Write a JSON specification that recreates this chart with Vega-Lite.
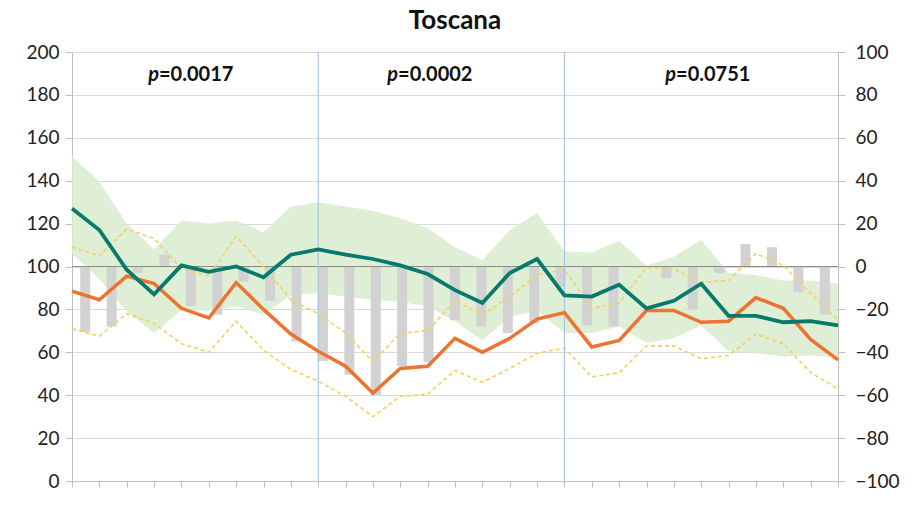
{
  "$schema": "https://vega.github.io/schema/vega-lite/v6.json",
  "width": 766,
  "height": 429,
  "autosize": {"type": "none"},
  "padding": {"left": 72, "top": 52, "right": 76, "bottom": 24},
  "background": "white",
  "title": {"text": "Toscana", "font": "Lato", "fontSize": 26, "fontWeight": "bold", "color": "#111111", "anchor": "middle", "offset": 9},
  "config": {
    "view": {"stroke": null},
    "axis": {"labelFont": "Lato", "labelFontSize": 19, "labelColor": "#222222", "domainColor": "#bfbfbf", "tickColor": "#bfbfbf", "titleFont": "Lato"}
  },
  "datasets": {
    "series": [
      {"i": 0, "teal": 127, "orange": 88.5, "bhi": 151.5, "blo": 106, "yhi": 109, "ylo": 71},
      {"i": 1, "teal": 117, "orange": 84.5, "bhi": 139.5, "blo": 94, "yhi": 105, "ylo": 67.5},
      {"i": 2, "teal": 98.5, "orange": 95.5, "bhi": 120, "blo": 79, "yhi": 117.5, "ylo": 78},
      {"i": 3, "teal": 87, "orange": 92, "bhi": 108, "blo": 69, "yhi": 113, "ylo": 73.5},
      {"i": 4, "teal": 100.5, "orange": 80.5, "bhi": 121.5, "blo": 79.5, "yhi": 99, "ylo": 64},
      {"i": 5, "teal": 97.5, "orange": 76, "bhi": 120, "blo": 79.5, "yhi": 95.5, "ylo": 60},
      {"i": 6, "teal": 100, "orange": 92.5, "bhi": 121.5, "blo": 81.5, "yhi": 114, "ylo": 74.5},
      {"i": 7, "teal": 95, "orange": 80, "bhi": 116, "blo": 77.5, "yhi": 100, "ylo": 61},
      {"i": 8, "teal": 105.5, "orange": 68.5, "bhi": 128, "blo": 86.5, "yhi": 84.5, "ylo": 52},
      {"i": 9, "teal": 108, "orange": 60.5, "bhi": 130, "blo": 87.5, "yhi": 78, "ylo": 46.5},
      {"i": 10, "teal": 105.5, "orange": 53.5, "bhi": 128, "blo": 86, "yhi": 69, "ylo": 39.5},
      {"i": 11, "teal": 103.5, "orange": 41, "bhi": 126, "blo": 84.5, "yhi": 55.5, "ylo": 30},
      {"i": 12, "teal": 100.5, "orange": 52.5, "bhi": 122.5, "blo": 83.5, "yhi": 69, "ylo": 39.5},
      {"i": 13, "teal": 96.5, "orange": 53.5, "bhi": 118, "blo": 81.5, "yhi": 70, "ylo": 40.5},
      {"i": 14, "teal": 89, "orange": 66.5, "bhi": 109, "blo": 74.5, "yhi": 84, "ylo": 51.5},
      {"i": 15, "teal": 83, "orange": 60, "bhi": 103, "blo": 65.5, "yhi": 77.5, "ylo": 46},
      {"i": 16, "teal": 97, "orange": 66.5, "bhi": 117, "blo": 76.5, "yhi": 86, "ylo": 52.5},
      {"i": 17, "teal": 103.5, "orange": 75.5, "bhi": 125, "blo": 79.5, "yhi": 96, "ylo": 59.5},
      {"i": 18, "teal": 86.5, "orange": 78.5, "bhi": 107, "blo": 69, "yhi": 98.5, "ylo": 62},
      {"i": 19, "teal": 86, "orange": 62.5, "bhi": 106.5, "blo": 69, "yhi": 80.5, "ylo": 48.5},
      {"i": 20, "teal": 91.5, "orange": 65.5, "bhi": 112, "blo": 72, "yhi": 83, "ylo": 50.5},
      {"i": 21, "teal": 80.5, "orange": 79.5, "bhi": 100.5, "blo": 64.5, "yhi": 99.5, "ylo": 63},
      {"i": 22, "teal": 84, "orange": 79.5, "bhi": 104.5, "blo": 66.5, "yhi": 99, "ylo": 63},
      {"i": 23, "teal": 92, "orange": 74, "bhi": 112.5, "blo": 72.5, "yhi": 92.5, "ylo": 57},
      {"i": 24, "teal": 77, "orange": 74.5, "bhi": 97, "blo": 60.5, "yhi": 93.5, "ylo": 58.5},
      {"i": 25, "teal": 77, "orange": 85.5, "bhi": 96, "blo": 59.5, "yhi": 106, "ylo": 68.5},
      {"i": 26, "teal": 74, "orange": 80.5, "bhi": 93.5, "blo": 58, "yhi": 100.5, "ylo": 64},
      {"i": 27, "teal": 74.5, "orange": 66, "bhi": 93.5, "blo": 58.5, "yhi": 87.5, "ylo": 50.5},
      {"i": 28, "teal": 72.5, "orange": 56.5, "bhi": 92, "blo": 57.5, "yhi": 75, "ylo": 43}
    ],
    "bars": [
      {"j": 0, "v": -30.5}, {"j": 1, "v": -28}, {"j": 2, "v": -3}, {"j": 3, "v": 5.5},
      {"j": 4, "v": -18.5}, {"j": 5, "v": -22.5}, {"j": 6, "v": -7}, {"j": 7, "v": -16},
      {"j": 8, "v": -35}, {"j": 9, "v": -44}, {"j": 10, "v": -50.5}, {"j": 11, "v": -60},
      {"j": 12, "v": -46.5}, {"j": 13, "v": -44.5}, {"j": 14, "v": -25}, {"j": 15, "v": -28},
      {"j": 16, "v": -31}, {"j": 17, "v": -26.5}, {"j": 18, "v": -9.5}, {"j": 19, "v": -27.5},
      {"j": 20, "v": -28}, {"j": 21, "v": -0.5}, {"j": 22, "v": -5.5}, {"j": 23, "v": -20},
      {"j": 24, "v": -3}, {"j": 25, "v": 10.5}, {"j": 26, "v": 9}, {"j": 27, "v": -12},
      {"j": 28, "v": -22.5}
    ],
    "dividers": [{"i": 9}, {"i": 18}],
    "baseline": [{"r": 0}],
    "labels": [
      {"x": 3.18, "y": 189.5, "p": "p", "rest": "=0.0017"},
      {"x": 11.92, "y": 189.5, "p": "p", "rest": "=0.0002"},
      {"x": 22.08, "y": 189.5, "p": "p", "rest": "=0.0751"}
    ]
  },
  "resolve": {"scale": {"x": "independent", "y": "independent"}},
  "layer": [
    {
      "data": {"name": "series"},
      "mark": {"type": "area", "color": "#d9ecce", "opacity": 0.85},
      "encoding": {
        "x": {"field": "i", "type": "quantitative", "scale": {"domain": [0, 28], "nice": false, "zero": false},
              "axis": {"orient": "bottom", "values": [0,1,2,3,4,5,6,7,8,9,10,11,12,13,14,15,16,17,18,19,20,21,22,23,24,25,26,27,28], "labels": false, "title": null, "grid": false, "tickSize": 6, "domainColor": "#bfbfbf"}},
        "y": {"field": "bhi", "type": "quantitative", "scale": {"domain": [0, 200], "nice": false},
              "axis": {"orient": "left", "values": [0,20,40,60,80,100,120,140,160,180,200], "title": null, "grid": true, "gridColor": "#dadada", "tickSize": 7, "labelPadding": 6}},
        "y2": {"field": "blo"}
      }
    },
    {
      "data": {"name": "bars"},
      "mark": {"type": "bar", "color": "#d2d2d2"},
      "encoding": {
        "x": {"field": "j", "type": "ordinal", "scale": {"paddingInner": 0.62, "paddingOuter": 0.31}, "axis": null},
        "y": {"field": "v", "type": "quantitative", "scale": {"domain": [-100, 100], "nice": false},
              "axis": {"orient": "right", "values": [-100,-80,-60,-40,-20,0,20,40,60,80,100], "title": null, "grid": false, "tickSize": 7, "labelPadding": 10}}
      }
    },
    {
      "data": {"name": "baseline"},
      "mark": {"type": "rule", "color": "#8c8c8c", "strokeWidth": 1},
      "encoding": {
        "y": {"field": "r", "type": "quantitative", "scale": {"domain": [-100, 100], "nice": false}, "axis": null}
      }
    },
    {
      "data": {"name": "series"},
      "mark": {"type": "line", "color": "#f7cf5c", "strokeWidth": 1.6, "strokeDash": [4, 3]},
      "encoding": {
        "x": {"field": "i", "type": "quantitative", "scale": {"domain": [0, 28], "nice": false, "zero": false}, "axis": null},
        "y": {"field": "yhi", "type": "quantitative", "scale": {"domain": [0, 200], "nice": false}, "axis": null}
      }
    },
    {
      "data": {"name": "series"},
      "mark": {"type": "line", "color": "#f7cf5c", "strokeWidth": 1.6, "strokeDash": [4, 3]},
      "encoding": {
        "x": {"field": "i", "type": "quantitative", "scale": {"domain": [0, 28], "nice": false, "zero": false}, "axis": null},
        "y": {"field": "ylo", "type": "quantitative", "scale": {"domain": [0, 200], "nice": false}, "axis": null}
      }
    },
    {
      "data": {"name": "dividers"},
      "mark": {"type": "rule", "color": "#a8c6e2", "strokeWidth": 1.2},
      "encoding": {
        "x": {"field": "i", "type": "quantitative", "scale": {"domain": [0, 28], "nice": false, "zero": false}, "axis": null}
      }
    },
    {
      "data": {"name": "series"},
      "mark": {"type": "line", "color": "#ed7430", "strokeWidth": 3.5},
      "encoding": {
        "x": {"field": "i", "type": "quantitative", "scale": {"domain": [0, 28], "nice": false, "zero": false}, "axis": null},
        "y": {"field": "orange", "type": "quantitative", "scale": {"domain": [0, 200], "nice": false}, "axis": null}
      }
    },
    {
      "data": {"name": "series"},
      "mark": {"type": "line", "color": "#087a6b", "strokeWidth": 3.8},
      "encoding": {
        "x": {"field": "i", "type": "quantitative", "scale": {"domain": [0, 28], "nice": false, "zero": false}, "axis": null},
        "y": {"field": "teal", "type": "quantitative", "scale": {"domain": [0, 200], "nice": false}, "axis": null}
      }
    },
    {
      "data": {"name": "labels"},
      "mark": {"type": "text", "align": "right", "baseline": "middle", "font": "Lato", "fontSize": 20, "fontWeight": "bold", "fontStyle": "italic", "color": "#111111"},
      "encoding": {
        "x": {"field": "x", "type": "quantitative", "scale": {"domain": [0, 28], "nice": false, "zero": false}, "axis": null},
        "y": {"field": "y", "type": "quantitative", "scale": {"domain": [0, 200], "nice": false}, "axis": null},
        "text": {"field": "p"}
      }
    },
    {
      "data": {"name": "labels"},
      "mark": {"type": "text", "align": "left", "baseline": "middle", "font": "Lato", "fontSize": 20, "fontWeight": "bold", "color": "#111111"},
      "encoding": {
        "x": {"field": "x", "type": "quantitative", "scale": {"domain": [0, 28], "nice": false, "zero": false}, "axis": null},
        "y": {"field": "y", "type": "quantitative", "scale": {"domain": [0, 200], "nice": false}, "axis": null},
        "text": {"field": "rest"}
      }
    }
  ]
}
